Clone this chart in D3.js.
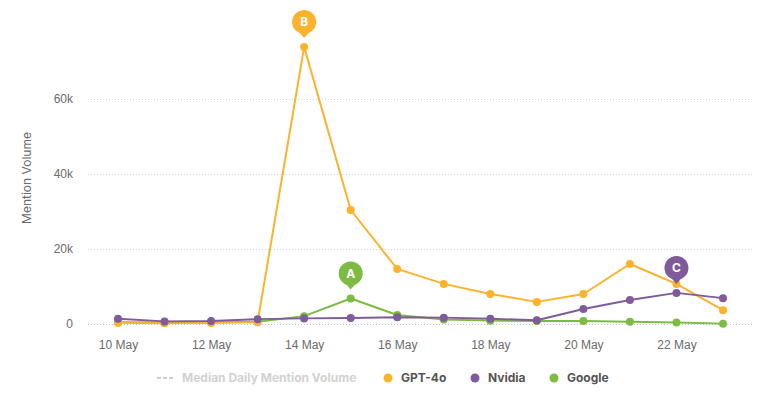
<!DOCTYPE html>
<html>
<head>
<meta charset="utf-8">
<script src="https://cdn.jsdelivr.net/npm/d3@7"></script>
<style>
  body { margin: 0; background: #fff; font-family: Inter, "Open Sans", sans-serif; }
  .tick text { fill: #6b6b6b; font-size: 12px; }
</style>
</head>
<body>
<div id="chart"></div>
<script>
const days = ["2024-05-10","2024-05-11","2024-05-12","2024-05-13","2024-05-14","2024-05-15","2024-05-16",
              "2024-05-17","2024-05-18","2024-05-19","2024-05-20","2024-05-21","2024-05-22","2024-05-23"]
const gpt4o  = [300, 200, 300, 500, 73900, 30400, 14700, 10700, 8000, 5900, 8000, 16000, 10700, 3700]
const nvidia = [1400, 700, 800, 1300, 1500, 1600, 1800, 1700, 1400, 1000, 4000, 6400, 8300, 6900]
const google = [500, 400, 400, 600, 2100, 6800, 2400, 1200, 900, 800, 800, 600, 400, 100]
const xTicks = ["2024-05-10","2024-05-12","2024-05-14","2024-05-16","2024-05-18","2024-05-20","2024-05-22"]
const yTicks = [0, 20000, 40000, 60000]
const seriesNames = ["GPT-4o", "Nvidia", "Google"]
const colors = ["#fdb22b", "#7f5b9c", "#7dbb42"]
const notes = [
    {label: "A", series: 2, day: "2024-05-15"},
    {label: "B", series: 0, day: "2024-05-14"},
    {label: "C", series: 1, day: "2024-05-22"}
]

const W = 766, H = 399
const parse = d3.timeParse("%Y-%m-%d")
const dates = days.map(parse)
const allSeries = [gpt4o, nvidia, google]

const x = d3.scaleTime()
    .domain(d3.extent(dates))
    .range([118, 723])
const y = d3.scaleLinear()
    .domain([0, 80000])
    .range([324, 24])

const svg = d3.select("#chart").append("svg")
    .attr("width", W)
    .attr("height", H)

// grid
svg.append("g").selectAll("line")
    .data(yTicks)
    .enter().append("line")
    .attr("x1", 88).attr("x2", 753)
    .attr("y1", d => y(d) + 0.5).attr("y2", d => y(d) + 0.5)
    .attr("stroke", d => d === 0 ? "#b9bfcc" : "#d4d4d4")
    .attr("stroke-dasharray", "1,2")

// y axis
svg.append("g")
    .attr("transform", "translate(80,0)")
    .call(d3.axisLeft(y).tickValues(yTicks).tickSize(0).tickPadding(7)
        .tickFormat(d => d === 0 ? "0" : (d / 1000) + "k"))
    .call(g => g.select(".domain").remove())

// x axis
svg.append("g")
    .attr("transform", "translate(0,336)")
    .call(d3.axisBottom(x).tickValues(xTicks.map(parse)).tickSize(0).tickPadding(4)
        .tickFormat(d3.timeFormat("%-d %b")))
    .call(g => g.select(".domain").remove())

svg.append("text")
    .attr("transform", "translate(31,178) rotate(-90)")
    .attr("text-anchor", "middle")
    .attr("fill", "#6b6b6b")
    .style("font-size", "12px")
    .text("Mention Volume")

const line = d3.line()
    .x((d, i) => x(dates[i]))
    .y(d => y(d))

// draw order: google, gpt, nvidia on top
const order = [2, 0, 1]
order.forEach(s => {
    const g = svg.append("g")
    g.append("path")
        .datum(allSeries[s])
        .attr("fill", "none")
        .attr("stroke", colors[s])
        .attr("stroke-width", 2)
        .attr("stroke-linejoin", "round")
        .attr("d", line)
    g.selectAll("circle")
        .data(allSeries[s])
        .enter().append("circle")
        .attr("cx", (d, i) => x(dates[i]))
        .attr("cy", d => y(d))
        .attr("r", 4)
        .attr("fill", colors[s])
})

// annotation pins
notes.forEach(n => {
    const i = days.indexOf(n.day)
    const px = x(dates[i]), py = y(allSeries[n.series][i])
    const cy = py - 25
    const g = svg.append("g")
    g.append("path")
        .attr("d", `M${px - 6},${cy + 9} L${px},${cy + 16} L${px + 6},${cy + 9} Z`)
        .attr("fill", colors[n.series])
    g.append("circle")
        .attr("cx", px).attr("cy", cy).attr("r", 12)
        .attr("fill", colors[n.series])
    g.append("text")
        .attr("x", px).attr("y", cy + 4.5)
        .attr("text-anchor", "middle")
        .attr("fill", "#fff")
        .style("font-size", "12px")
        .style("font-weight", "bold")
        .text(n.label)
})

// legend
const lg = svg.append("g").attr("transform", "translate(0,378)")
lg.append("line")
    .attr("x1", 157).attr("x2", 173)
    .attr("stroke", "#bdbdbd").attr("stroke-width", 1.5)
    .attr("stroke-dasharray", "4,2")
lg.append("text")
    .attr("x", 182).attr("y", 4)
    .attr("fill", "#d2d2d2")
    .style("font-size", "12px").style("font-weight", "bold")
    .text("Median Daily Mention Volume")
const legendX = [388, 475, 554]
seriesNames.forEach((name, s) => {
    lg.append("circle")
        .attr("cx", legendX[s]).attr("cy", 0).attr("r", 4.5)
        .attr("fill", colors[s])
    lg.append("text")
        .attr("x", legendX[s] + 13).attr("y", 4)
        .attr("fill", "#555")
        .style("font-size", "12px").style("font-weight", "bold")
        .text(name)
})
</script>
</body>
</html>
